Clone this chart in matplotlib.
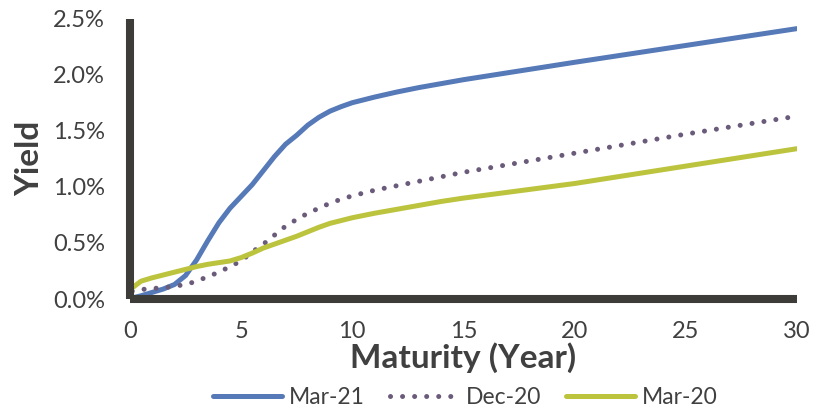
import matplotlib
matplotlib.use('Agg')
from matplotlib import pyplot as plt
from matplotlib.ticker import FuncFormatter

# maturities in years and yields in percent for each curve
maturity = [0.1, 0.5, 1, 1.5, 2, 2.5, 3, 3.5, 4, 4.5, 5, 5.5, 6, 6.5, 7, 7.5,
            8, 8.5, 9, 9.5, 10, 11, 12, 13, 14, 15, 20, 25, 30]
mar_21 = [0.01, 0.03, 0.06, 0.09, 0.13, 0.21, 0.35, 0.52, 0.68, 0.81, 0.915, 1.02, 1.145, 1.27, 1.38, 1.46,
          1.55, 1.62, 1.675, 1.715, 1.75, 1.80, 1.845, 1.885, 1.92, 1.955, 2.11, 2.26, 2.41]
dec_20 = [0.07, 0.085, 0.095, 0.10, 0.115, 0.13, 0.16, 0.20, 0.24, 0.29, 0.34, 0.42, 0.49, 0.57, 0.65, 0.71,
          0.765, 0.81, 0.855, 0.89, 0.92, 0.97, 1.01, 1.05, 1.09, 1.13, 1.30, 1.47, 1.63]
mar_20 = [0.10, 0.16, 0.19, 0.215, 0.24, 0.265, 0.29, 0.31, 0.325, 0.34, 0.37, 0.41, 0.455, 0.49, 0.525, 0.56,
          0.60, 0.64, 0.675, 0.70, 0.725, 0.765, 0.80, 0.835, 0.87, 0.90, 1.03, 1.185, 1.34]
x_ticks = [0, 5, 10, 15, 20, 25, 30]
y_ticks = [0.0, 0.5, 1.0, 1.5, 2.0, 2.5]

text_color = '#404040'
axis_color = '#3d3c38'
plt.rcParams['font.family'] = ['Lato', 'DejaVu Sans']

fig = plt.figure(figsize=(8.3, 4.12), dpi=100)
ax = fig.add_axes([0.1566, 0.274, 0.8034, 0.681])

ax.plot(maturity, mar_21, color='#5679b8', lw=3.6, solid_capstyle='round',
        solid_joinstyle='round', label='Mar-21')
ax.plot(maturity, dec_20, color='#6b5b7b', lw=3.6, linestyle=(0, (0.01, 2.4)),
        dash_capstyle='round', label='Dec-20')
ax.plot(maturity, mar_20, color='#bcc43d', lw=3.6, solid_capstyle='round',
        solid_joinstyle='round', label='Mar-20')

ax.set_xlim(0, 30)
ax.set_ylim(0, 2.5)
ax.set_xticks(x_ticks)
ax.set_yticks(y_ticks)
ax.yaxis.set_major_formatter(FuncFormatter(lambda v, p: '%.1f%%' % v))
ax.tick_params(length=0, labelsize=17, labelcolor=text_color)
ax.tick_params(axis='y', pad=18)
ax.tick_params(axis='x', pad=16)

for side in ['top', 'right']:
    ax.spines[side].set_visible(False)
for side in ['left', 'bottom']:
    ax.spines[side].set_linewidth(5.8)
    ax.spines[side].set_color(axis_color)
    ax.spines[side].set_capstyle('butt')

ax.set_ylabel('Yield', fontsize=24, fontweight='bold', color=text_color, labelpad=6)
ax.set_xlabel('Maturity (Year)', fontsize=24, fontweight='bold', color=text_color, labelpad=0)

fig.legend(loc='center', bbox_to_anchor=(0.561, 0.034), ncol=3, frameon=False,
           fontsize=16.5, handlelength=3.0, columnspacing=1.1, handletextpad=0.3,
           labelcolor=text_color)

fig.savefig('out.png', dpi=100)
